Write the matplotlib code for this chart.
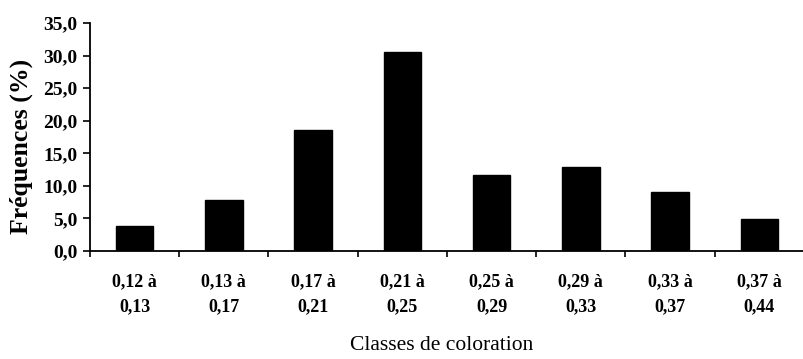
import matplotlib
matplotlib.use("Agg")
import matplotlib.pyplot as plt
import numpy as np

categories = ["0,12 à\n0,13", "0,13 à\n0,17", "0,17 à\n0,21", "0,21 à\n0,25",
              "0,25 à\n0,29", "0,29 à\n0,33", "0,33 à\n0,37", "0,37 à\n0,44"]
frequences = [3.8, 7.9, 18.5, 30.5, 11.6, 12.9, 9.0, 4.9]
yticks = [0, 5, 10, 15, 20, 25, 30, 35]
ytick_labels = ["0,0", "5,0", "10,0", "15,0", "20,0", "25,0", "30,0", "35,0"]

plt.rcParams['font.family'] = ['Liberation Serif', 'DejaVu Serif']

fig = plt.figure(figsize=(8.04, 3.59), dpi=100)
ax = fig.add_axes([90/804, 1-251/359, 1-90/804, (251-23)/359])

x = np.arange(len(categories))
ax.bar(x, frequences, width=0.42, color="black", edgecolor="black")

ax.set_xlim(-0.5, 7.43)
ax.set_ylim(0, 35)
ax.set_yticks(yticks)
ax.set_yticklabels(ytick_labels, fontsize=14, fontweight="bold")
ax.set_xticks(x)
ax.set_xticklabels(categories, fontsize=13, fontweight="bold", linespacing=1.65)
ax.tick_params(axis="x", which="major", length=0, pad=16)
ax.set_xticks(np.arange(-0.5, 8, 1), minor=True)
ax.tick_params(axis="x", which="minor", length=4, width=1.2, direction="out")
ax.tick_params(axis="y", length=5, width=1.2, direction="out", pad=4)

for s in ["top", "right"]:
    ax.spines[s].set_visible(False)
for s in ["left", "bottom"]:
    ax.spines[s].set_linewidth(1.3)

ax.set_ylabel("Fréquences (%)", fontsize=18.5, fontweight="bold", va="center")
ax.yaxis.set_label_coords((21-90)/714, (251-146)/228)
ax.set_xlabel("Classes de coloration", fontsize=15.5, va="center")
ax.xaxis.set_label_coords((442-90)/714, -(345-251)/228)

fig.savefig("out.png", dpi=100, facecolor="white")
